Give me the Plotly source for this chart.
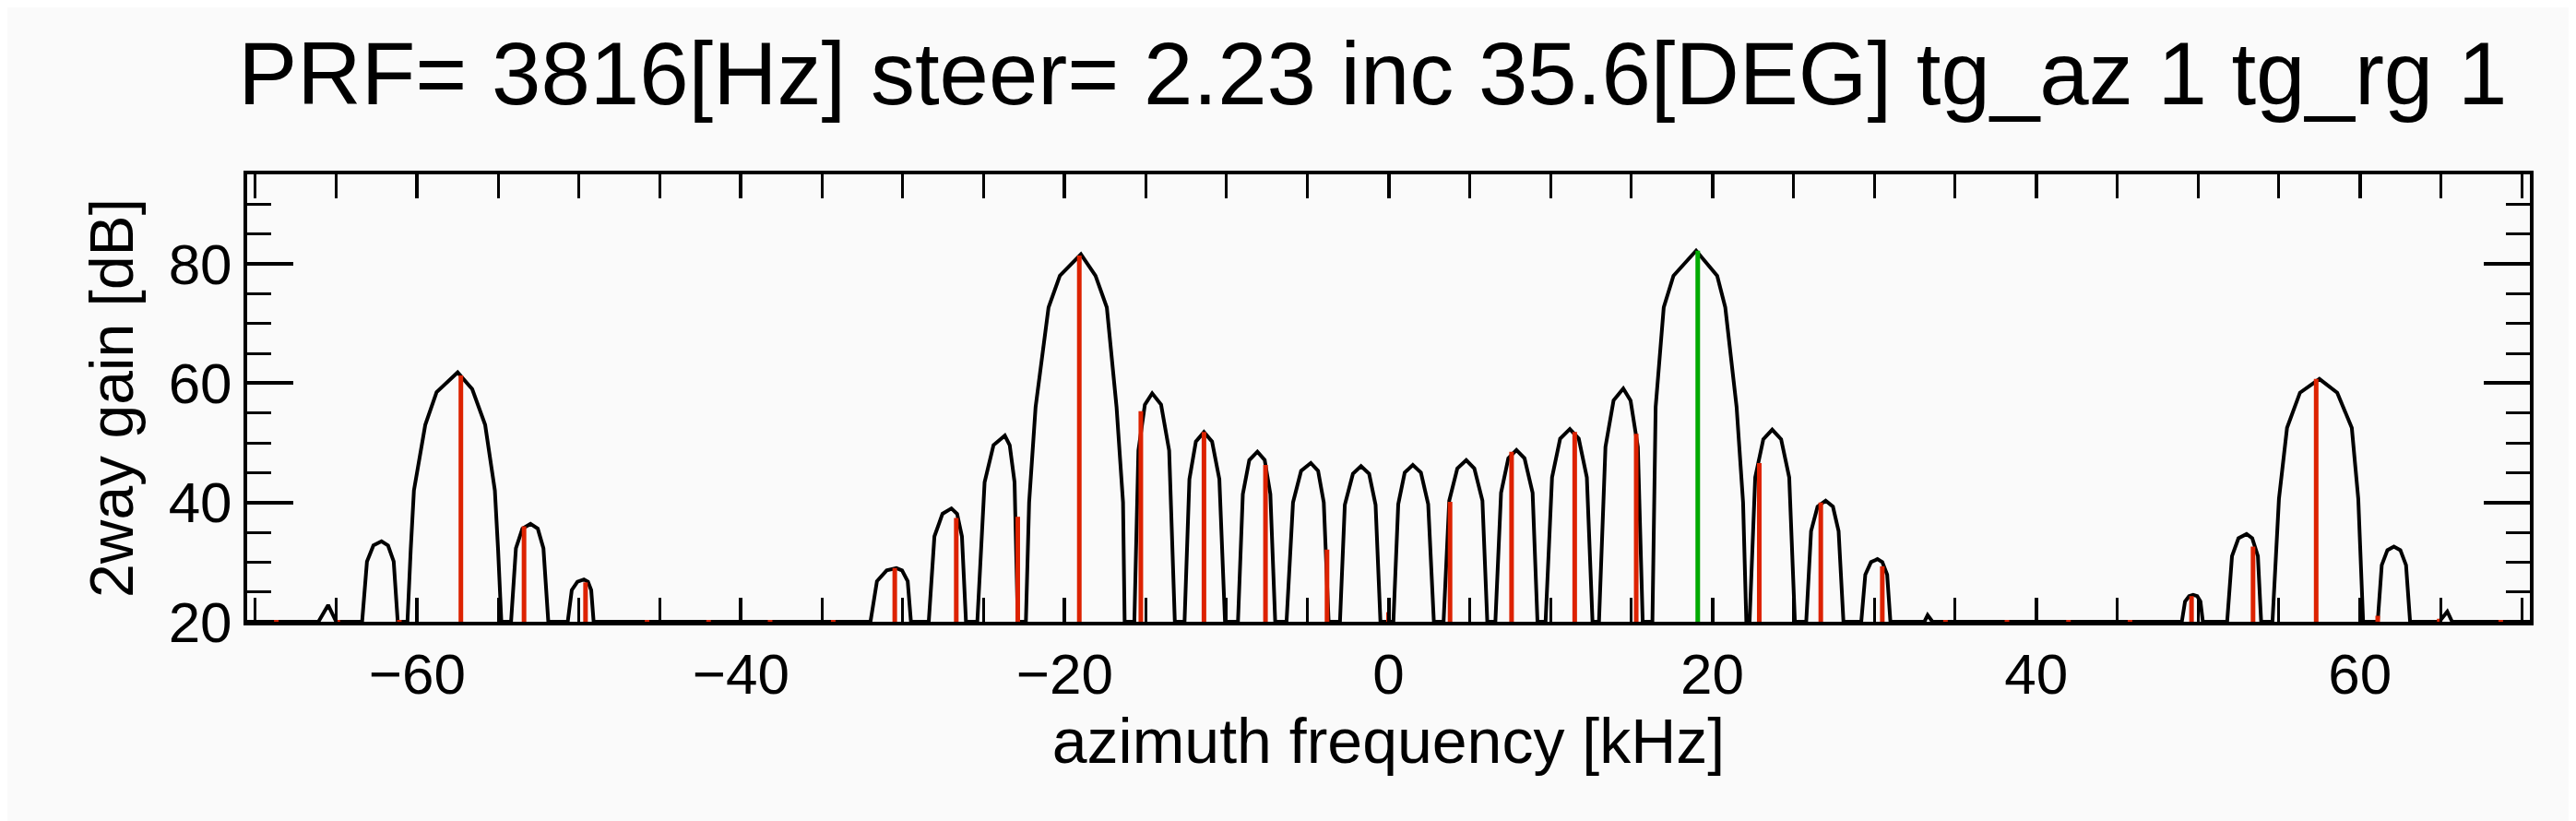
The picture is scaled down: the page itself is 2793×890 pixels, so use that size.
import plotly.graph_objects as go

# black lobes of the 2-way gain (kHz, dB)
lobe_x = [
    [-66.1, -65.5, -65.0],
    [-63.4, -63.1, -62.7, -62.2, -61.8, -61.45, -61.2],
    [-60.6, -60.4, -60.2, -59.5, -58.8, -57.5, -56.6, -55.8, -55.2, -55.0, -54.8],
    [-54.2, -53.9, -53.5, -53.0, -52.55, -52.2, -51.9],
    [-50.7, -50.45, -50.1, -49.7, -49.45, -49.25, -49.1],
    [-32.0, -31.6, -31.0, -30.4, -30.05, -29.7, -29.5],
    [-28.4, -28.05, -27.55, -27.0, -26.65, -26.35, -26.1],
    [-25.4, -24.95, -24.4, -23.7, -23.4, -23.1, -22.9],
    [-22.4, -22.2, -21.8, -21.0, -20.3, -19.0, -18.1, -17.4, -16.8, -16.4, -16.3],
    [-15.7, -15.45, -15.05, -14.6, -14.05, -13.55, -13.2],
    [-12.6, -12.3, -11.9, -11.4, -10.9, -10.45, -10.1],
    [-9.3, -9.0, -8.6, -8.1, -7.65, -7.3, -7.0],
    [-6.3, -5.9, -5.4, -4.8, -4.35, -4.0, -3.7],
    [-3.0, -2.7, -2.2, -1.7, -1.2, -0.8, -0.5],
    [0.3, 0.6, 1.0, 1.5, 2.0, 2.45, 2.8],
    [3.4, 3.75, 4.25, 4.8, 5.3, 5.8, 6.1],
    [6.6, 6.95, 7.4, 7.9, 8.4, 8.9, 9.2],
    [9.7, 10.1, 10.6, 11.2, 11.75, 12.25, 12.6],
    [13.0, 13.4, 13.9, 14.5, 14.95, 15.4, 15.7],
    [16.3, 16.4, 16.5, 17.0, 17.6, 19.0, 20.3, 20.8, 21.5, 21.9, 22.1],
    [22.3, 22.65, 23.15, 23.7, 24.25, 24.75, 25.1],
    [25.8, 26.1, 26.5, 27.0, 27.45, 27.8, 28.1],
    [29.2, 29.45, 29.8, 30.2, 30.5, 30.8, 31.0],
    [33.1, 33.3, 33.6],
    [49.0, 49.2, 49.45, 49.7, 49.95, 50.15, 50.3],
    [51.8, 52.1, 52.5, 53.0, 53.35, 53.7, 53.9],
    [54.6, 55.0, 55.5, 56.3, 57.5, 58.6, 59.5, 59.9, 60.2],
    [61.1, 61.35, 61.7, 62.1, 62.5, 62.85, 63.1],
    [64.9, 65.4, 65.7],
]
lobe_y = [
    [20, 22.8, 20],
    [20, 30.1, 32.8, 33.5, 32.8, 30.1, 20],
    [20, 32, 42, 53, 58.5, 61.8, 59, 53, 42, 32, 20],
    [20, 32.3, 35.6, 36.4, 35.6, 32.3, 20],
    [20, 25.3, 26.7, 27.1, 26.7, 25.3, 20],
    [20, 26.8, 28.6, 29.0, 28.6, 26.8, 20],
    [20, 34.3, 38.1, 39.0, 38.1, 34.3, 20],
    [20, 43.4, 49.6, 51.2, 49.6, 43.4, 20],
    [20, 40, 56, 72.7, 78, 81.6, 78, 72.7, 56, 40, 20],
    [20, 48.7, 56.4, 58.3, 56.4, 48.7, 20],
    [20, 43.9, 50.2, 51.8, 50.2, 43.9, 20],
    [20, 41.4, 47.1, 48.5, 47.1, 41.4, 20],
    [20, 40.0, 45.3, 46.6, 45.3, 40.0, 20],
    [20, 39.6, 44.8, 46.1, 44.8, 39.6, 20],
    [20, 39.7, 45.0, 46.3, 45.0, 39.7, 20],
    [20, 40.3, 45.7, 47.1, 45.7, 40.3, 20],
    [20, 41.6, 47.4, 48.8, 47.4, 41.6, 20],
    [20, 44.2, 50.7, 52.3, 50.7, 44.2, 20],
    [20, 49.3, 57.1, 59.1, 57.1, 49.3, 20],
    [20, 40, 56, 72.7, 78, 82.2, 78, 72.7, 56, 40, 20],
    [20, 44.2, 50.6, 52.2, 50.6, 44.2, 20],
    [20, 35.2, 39.3, 40.3, 39.3, 35.2, 20],
    [20, 27.9, 30.0, 30.5, 30.0, 27.9, 20],
    [20, 21.1, 20],
    [20, 23.4, 24.3, 24.5, 24.3, 23.4, 20],
    [20, 31.0, 34.0, 34.7, 34.0, 31.0, 20],
    [20, 40.6, 52.5, 58.4, 60.7, 58.4, 52.5, 40.6, 20],
    [20, 29.5, 32.0, 32.6, 32.0, 29.5, 20],
    [20, 21.7, 20],
]

# PRF ambiguity stems (red), main target stem (green)
stem_x = [-68.7, -64.9, -61.1, -57.3, -53.4, -49.6, -45.8, -42.0, -38.2, -34.3,
          -30.5, -26.7, -22.9, -19.1, -15.3, -11.4, -7.6, -3.8, 0.0, 3.8,
          7.6, 11.5, 15.3, 22.9, 26.7, 30.5, 34.4, 38.2, 42.0, 45.8,
          49.6, 53.4, 57.3, 61.1, 64.9, 68.7]
stem_y = [20.3, 20.3, 20.3, 61.3, 36.0, 26.6, 20.3, 20.3, 20.3, 20.3,
          29.0, 37.4, 37.6, 81.4, 55.3, 51.8, 46.3, 32.1, 21.6, 40.1,
          48.5, 51.8, 51.5, 46.6, 40.0, 29.3, 20.3, 20.3, 20.3, 20.3,
          24.3, 32.6, 60.7, 21.0, 20.5, 20.3]
main_x = 19.1
main_y = 82.2

curve_x, curve_y = [-70.5], [20]
for xs, ys in zip(lobe_x, lobe_y):
    curve_x += xs
    curve_y += ys
curve_x.append(70.5)
curve_y.append(20)

sx, sy = [], []
for x, y in zip(stem_x, stem_y):
    sx += [x, x, None]
    sy += [20, y, None]

fig = go.Figure()
fig.add_trace(go.Scatter(x=curve_x, y=curve_y, mode='lines',
                         line=dict(color='black', width=4)))
fig.add_trace(go.Scatter(x=sx, y=sy, mode='lines',
                         line=dict(color='#dd2200', width=5)))
fig.add_trace(go.Scatter(x=[main_x, main_x], y=[20, main_y], mode='lines',
                         line=dict(color='#00aa00', width=5)))

font = 'Liberation Sans'
fig.update_layout(
    width=2793, height=890,
    paper_bgcolor='#fafafa', plot_bgcolor='#fafafa',
    showlegend=False,
    margin=dict(l=260, r=58, t=181, b=224),
    font=dict(family=font, color='black', size=62),
    title=dict(text='PRF= 3816[Hz] steer= 2.23 inc 35.6[DEG] tg_az 1 tg_rg 1',
               x=0.53, xanchor='center', y=0.92, yanchor='middle',
               font=dict(size=96, family=font)),
)
axis_common = dict(showgrid=False, zeroline=False, showline=True, linecolor='black',
                   linewidth=4, mirror='ticks', ticks='inside', tickcolor='black',
                   tickwidth=4, ticklen=50,
                   minor=dict(ticks='inside', ticklen=26, tickwidth=3, tickcolor='black'))
fig.update_xaxes(range=[-70.5, 70.5], dtick=20, tick0=0,
                 title=dict(text='azimuth frequency [kHz]', standoff=8, font=dict(size=68)),
                 **axis_common)
fig.update_xaxes(minor_dtick=5, ticklen=26)
fig.update_yaxes(range=[20, 95], dtick=20, tick0=0,
                 title=dict(text='2way gain [dB]', standoff=18, font=dict(size=66)),
                 **axis_common)
fig.update_yaxes(minor_dtick=5)

fig.write_html("out.html")
